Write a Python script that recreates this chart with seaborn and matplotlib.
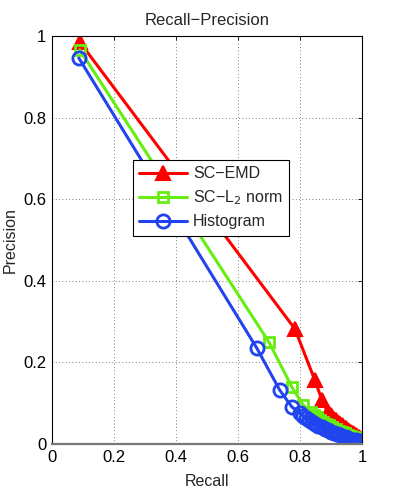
import numpy as np
import pandas as pd
import seaborn as sns
import matplotlib
matplotlib.use('Agg')
import matplotlib.pyplot as plt

# recall / precision
emd_recall = [0.09, 0.784, 0.848, 0.871, 0.89, 0.895, 0.90, 0.905, 0.91, 0.915, 0.92,
              0.925, 0.93, 0.935, 0.94, 0.945, 0.95, 0.955, 0.96, 0.965, 0.97, 0.975,
              0.98, 0.985, 0.99, 0.995, 1.0]
emd_prec = [0.985, 0.282, 0.157, 0.108, 0.078, 0.074, 0.070, 0.066, 0.062, 0.058, 0.055,
            0.052, 0.049, 0.046, 0.043, 0.040, 0.038, 0.035, 0.033, 0.030, 0.028, 0.025,
            0.023, 0.020, 0.018, 0.015, 0.013]

l2_recall = [0.09, 0.70, 0.774, 0.81, 0.835, 0.845, 0.855, 0.865, 0.875, 0.885, 0.895,
             0.905, 0.915, 0.925, 0.935, 0.945, 0.955, 0.965, 0.975, 0.985, 0.995, 1.0]
l2_prec = [0.966, 0.25, 0.14, 0.096, 0.078, 0.071, 0.065, 0.060, 0.055, 0.050, 0.046,
           0.041, 0.037, 0.033, 0.030, 0.026, 0.023, 0.020, 0.017, 0.014, 0.011, 0.010]

hist_recall = [0.087, 0.661, 0.735, 0.774, 0.80, 0.81, 0.82, 0.83, 0.84, 0.85, 0.86,
               0.87, 0.88, 0.89, 0.90, 0.91, 0.92, 0.93, 0.94, 0.95, 0.96, 0.97,
               0.98, 0.99, 1.0]
hist_prec = [0.946, 0.235, 0.132, 0.091, 0.076, 0.069, 0.063, 0.058, 0.053, 0.049, 0.045,
             0.041, 0.037, 0.034, 0.030, 0.027, 0.024, 0.021, 0.018, 0.016, 0.013, 0.011,
             0.009, 0.007, 0.005]

sns.set_style('white')
plt.rcParams['font.family'] = ['Liberation Sans', 'DejaVu Sans']
plt.rcParams['font.size'] = 11.5

fig = plt.figure(figsize=(3.99, 5.0), dpi=100)
ax = fig.add_axes([0.130, 0.112, 0.777, 0.816])

red = '#ff0000'
green = '#66ee11'
blue = '#2244f0'

sns.lineplot(x=emd_recall, y=emd_prec, ax=ax, sort=False, color=red, lw=2.2,
             marker='^', markersize=10, markerfacecolor=red, markeredgecolor=red,
             markeredgewidth=1.5, label='SC\u2212EMD')
sns.lineplot(x=l2_recall, y=l2_prec, ax=ax, sort=False, color=green, lw=2.2,
             marker='s', markersize=7.5, markerfacecolor='none', markeredgecolor=green,
             markeredgewidth=2, label='SC\u2212L$_2$ norm')
sns.lineplot(x=hist_recall, y=hist_prec, ax=ax, sort=False, color=blue, lw=2.2,
             marker='o', markersize=9.5, markerfacecolor='none', markeredgecolor=blue,
             markeredgewidth=2, label='Histogram')

ax.set_xlim(0, 1)
ax.set_ylim(0, 1)
ax.set_xticks(np.arange(0, 1.01, 0.2))
ax.set_yticks(np.arange(0, 1.01, 0.2))
ax.set_xticklabels(['0', '0.2', '0.4', '0.6', '0.8', '1'])
ax.set_yticklabels(['0', '0.2', '0.4', '0.6', '0.8', '1'])
ax.grid(True, linestyle=(0, (1, 3)), color='#555555', linewidth=0.6)
ax.tick_params(direction='in', length=3, width=0.6, top=True, right=True,
               labelsize=12, colors='black', pad=4)
for s in ax.spines.values():
    s.set_color('black')
    s.set_linewidth(0.8)
ax.spines['bottom'].set_color('#777777')
ax.spines['bottom'].set_linewidth(1.6)

ax.set_xlabel('Recall', fontsize=11.5, labelpad=7)
ax.set_ylabel('Precision', fontsize=11.5)
ax.set_title('Recall\u2212Precision', fontsize=12, pad=8)

leg = ax.legend(loc='upper left', bbox_to_anchor=(0.262, 0.696), fontsize=11.5,
                frameon=True, fancybox=False, edgecolor='black', framealpha=1,
                handlelength=3.0, handletextpad=0.35, borderpad=0.4,
                labelspacing=0.45, borderaxespad=0)
leg.get_frame().set_linewidth(0.8)

fig.savefig('out.png', dpi=100)
